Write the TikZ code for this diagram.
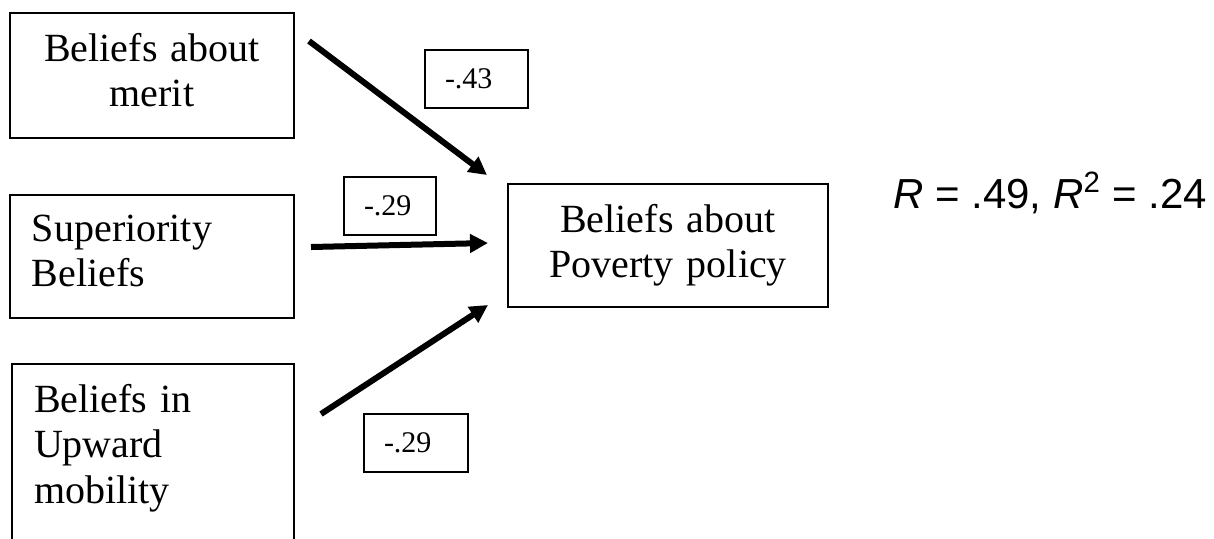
\documentclass[tikz,border=0pt]{standalone}
\usepackage{fontspec}
\setmainfont{Liberation Serif}
\newfontfamily\arialfont{Liberation Sans}
\usetikzlibrary{arrows.meta}

\tikzset{
    box/.style={draw, line width=1pt, anchor=north west, inner xsep=11pt, inner ysep=10pt,
        font=\fontsize{20}{22.75}\selectfont},
    wbox/.style={draw, line width=1pt, anchor=north west, inner xsep=10pt, inner ysep=0pt,
        minimum height=29pt, align=left, font=\fontsize{15}{18}\selectfont},
    arr/.style={line width=3pt, -{Triangle[length=9pt,width=9pt]}}
}

\begin{document}
\begin{tikzpicture}[x=0.5pt, y=-0.5pt]
    \clip (0,0) rectangle (1214,538);

    % predictors and outcome
    \node[box, text width=120pt, align=center, text depth=28.2pt] (merit) at (9,12) {Beliefs about\\merit};
    \node[box, text width=120pt, align=left, text depth=28.2pt] (sup) at (9,194) {Superiority\\Beliefs};
    \node[box, text width=119pt, align=left, text depth=80pt] (up) at (11,363) {Beliefs in\\Upward\\mobility};
    \node[box, text width=138pt, align=center, text depth=27.2pt] (pov) at (507,183) {Beliefs about\\Poverty policy};

    \coordinate (m1) at (309,41);
    \coordinate (m2) at (487,175);
    \coordinate (s1) at (311,247);
    \coordinate (s2) at (488,243);
    \coordinate (u1) at (321,414);
    \coordinate (u2) at (488,305);

    \foreach \a/\b in {m1/m2, s1/s2, u1/u2}
        \draw[arr] (\a) -- (\b);

    % path weights
    \foreach \nm/\x/\y/\w/\v in {w1/424/49/31.5pt/-.43, w2/343/176/26pt/-.29, w3/363/413/32pt/-.29}
        \node[wbox, text width=\w] (\nm) at (\x,\y) {\v};

    \node[anchor=base west, inner sep=0pt, font=\arialfont\fontsize{21}{25}\selectfont] (fitR) at (893,208)
        {\textit{R} = .49, \textit{R}\textsuperscript{2} = .24};
\end{tikzpicture}
\end{document}
